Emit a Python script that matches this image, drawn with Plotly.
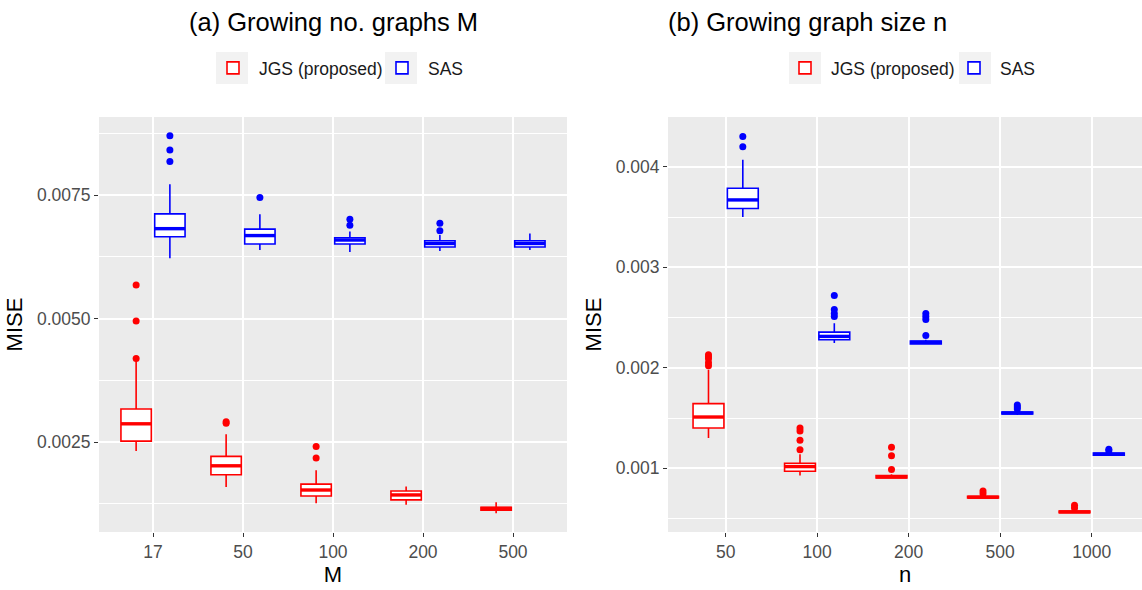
import plotly.graph_objects as go

# ---------------- data ----------------
M_labels = ["17", "50", "100", "200", "500"]
n_labels = ["50", "100", "200", "500", "1000"]

# Panel (a): growing number of graphs M
jgs_M_low = [0.00232, 0.00159, 0.00126, 0.00123, 0.00106]
jgs_M_q1 = [0.00252, 0.00184, 0.00141, 0.00133, 0.00112]
jgs_M_med = [0.00287, 0.00202, 0.00153, 0.00143, 0.001155]
jgs_M_q3 = [0.00317, 0.00221, 0.00165, 0.00151, 0.00118]
jgs_M_up = [0.00415, 0.00266, 0.00193, 0.00160, 0.00128]
jgs_M_out = [[0.00419, 0.00495, 0.00568], [0.00288, 0.00291], [0.00218, 0.00241], [], []]

sas_M_low = [0.00622, 0.00639, 0.00635, 0.00637, 0.00639]
sas_M_q1 = [0.006655, 0.00651, 0.00651, 0.00645, 0.00645]
sas_M_med = [0.00682, 0.00668, 0.00659, 0.00652, 0.00652]
sas_M_q3 = [0.00712, 0.00681, 0.006635, 0.006575, 0.006575]
sas_M_up = [0.00772, 0.00711, 0.00676, 0.00669, 0.00672]
sas_M_out = [[0.00818, 0.00841, 0.00870], [0.00745], [0.00689, 0.00701], [0.00678, 0.00693], []]

# Panel (b): growing graph size n
jgs_n_low = [0.00130, 0.000927, 0.000900, 0.000700, 0.000555]
jgs_n_q1 = [0.00140, 0.000970, 0.000904, 0.000704, 0.000558]
jgs_n_med = [0.00151, 0.001017, 0.000914, 0.000712, 0.000566]
jgs_n_q3 = [0.001643, 0.00105, 0.000927, 0.000720, 0.000575]
jgs_n_up = [0.00198, 0.00114, 0.00094, 0.00073, 0.00059]
jgs_n_out = [[0.00202, 0.00205, 0.00209, 0.00211, 0.00213],
             [0.001185, 0.00128, 0.00137, 0.00140],
             [0.000987, 0.001125, 0.00121],
             [0.000746, 0.000773],
             [0.000604, 0.000631]]

sas_n_low = [0.00350, 0.002246, 0.00223, 0.00153, 0.001125]
sas_n_q1 = [0.003585, 0.002279, 0.002236, 0.001541, 0.001129]
sas_n_med = [0.00367, 0.002312, 0.002253, 0.00155, 0.00114]
sas_n_q3 = [0.003786, 0.002355, 0.002266, 0.00156, 0.001152]
sas_n_up = [0.00407, 0.002444, 0.00228, 0.00157, 0.00116]
sas_n_out = [[0.00420, 0.00430],
             [0.00251, 0.00254, 0.00258, 0.00272],
             [0.00232, 0.00248, 0.00251, 0.00254],
             [0.00159, 0.00161, 0.00163],
             [0.001175, 0.00119]]

# ---------------- style ----------------
RED = "#FF0000"
BLUE = "#0000FF"
OFF = 0.1875
W = 0.3375
FONT = "Liberation Sans, Arial, sans-serif"

fig = go.Figure()


def add_group(name, color, cats, low, q1, med, q3, up, outl, xa, ya, legend, side):
    pos = [i + 1 + side * OFF for i in range(len(cats))]
    fig.add_trace(go.Box(
        x=pos, q1=q1, median=med, q3=q3, lowerfence=low, upperfence=up,
        name=name, line=dict(color=color, width=1.6), fillcolor="white",
        width=W, whiskerwidth=0, boxpoints=False,
        xaxis=xa, yaxis=ya, legend=legend, hoverinfo="y"))
    mx, my = [], []
    for p, m in zip(pos, med):
        mx += [p - W / 2, p + W / 2, None]
        my += [m, m, None]
    fig.add_trace(go.Scatter(
        x=mx, y=my, mode="lines", line=dict(color=color, width=3.4),
        showlegend=False, xaxis=xa, yaxis=ya, hoverinfo="skip"))
    ox, oy = [], []
    for p, vals in zip(pos, outl):
        ox += [p] * len(vals)
        oy += vals
    fig.add_trace(go.Scatter(
        x=ox, y=oy, mode="markers", marker=dict(color=color, size=7),
        showlegend=False, xaxis=xa, yaxis=ya, hoverinfo="y"))


add_group("JGS (proposed)", RED, M_labels, jgs_M_low, jgs_M_q1, jgs_M_med, jgs_M_q3,
          jgs_M_up, jgs_M_out, "x", "y", "legend", -1)
add_group("SAS", BLUE, M_labels, sas_M_low, sas_M_q1, sas_M_med, sas_M_q3,
          sas_M_up, sas_M_out, "x", "y", "legend", 1)
add_group("JGS (proposed)", RED, n_labels, jgs_n_low, jgs_n_q1, jgs_n_med, jgs_n_q3,
          jgs_n_up, jgs_n_out, "x2", "y2", "legend2", -1)
add_group("SAS", BLUE, n_labels, sas_n_low, sas_n_q1, sas_n_med, sas_n_q3,
          sas_n_up, sas_n_out, "x2", "y2", "legend2", 1)

H, Wd = 590, 1142
ydom = [1 - 532 / H, 1 - 117 / H]

common_x = dict(
    showgrid=True, gridcolor="white", gridwidth=1.5, zeroline=False,
    ticks="outside", ticklen=4, tickcolor="#333333", tickwidth=1,
    tickfont=dict(size=17.5, color="#4D4D4D", family=FONT),
    tickvals=[1, 2, 3, 4, 5], showline=False, automargin=False,
)
common_y = dict(
    showgrid=True, gridcolor="white", gridwidth=1.5, zeroline=False,
    ticks="outside", ticklen=4, tickcolor="#333333", tickwidth=1,
    tickfont=dict(size=17.5, color="#4D4D4D", family=FONT), showline=False,
    domain=ydom, automargin=False,
)

leg_common = dict(orientation="h", xanchor="left", y=1 - 68 / H, yanchor="middle",
                  font=dict(size=17.5, color="#1A1A1A"), bgcolor="rgba(0,0,0,0)",
                  itemwidth=42, entrywidth=112, traceorder="normal")

# grey legend-key backgrounds (ggplot style), in pixel positions of the page
key_left_px = [216, 385, 789, 959]
key_shapes = [
    dict(type="rect", xref="paper", yref="paper", layer="below",
         x0=k / Wd, x1=(k + 32) / Wd, y0=1 - 84 / H, y1=1 - 52 / H,
         fillcolor="#F2F2F2", line=dict(width=0))
    for k in key_left_px
]

fig.update_layout(
    width=Wd, height=H,
    margin=dict(l=0, r=0, t=0, b=0, autoexpand=False),
    paper_bgcolor="white", plot_bgcolor="#EBEBEB",
    boxmode="overlay",
    font=dict(family=FONT, color="black"),
    xaxis=dict(common_x, domain=[99 / Wd, 567 / Wd], range=[0.4, 5.6], ticktext=M_labels,
               anchor="y",
               title=dict(text="M", font=dict(size=22, color="black"), standoff=2)),
    xaxis2=dict(common_x, domain=[668 / Wd, 1.0], range=[0.37, 5.55], ticktext=n_labels,
                anchor="y2",
                title=dict(text="n", font=dict(size=22, color="black"), standoff=2)),
    yaxis=dict(common_y, range=[0.00068, 0.00908], tickmode="linear", tick0=0, dtick=0.0025,
               tickformat=".4f", anchor="x",
               minor=dict(tickmode="linear", tick0=0, dtick=0.00125, showgrid=True,
                          gridcolor="white", gridwidth=0.8, ticks=""),
               title=dict(text="MISE", font=dict(size=22, color="black"), standoff=8)),
    yaxis2=dict(common_y, range=[0.000366, 0.004495], tickmode="linear", tick0=0, dtick=0.001,
                tickformat=".3f", anchor="x2",
                minor=dict(tickmode="linear", tick0=0, dtick=0.0005, showgrid=True,
                           gridcolor="white", gridwidth=0.8, ticks=""),
                title=dict(text="MISE", font=dict(size=22, color="black"), standoff=8)),
    legend=dict(leg_common, x=207 / Wd),
    legend2=dict(leg_common, x=779 / Wd),
    showlegend=True,
    shapes=key_shapes,
    annotations=[
        dict(text="(a) Growing no. graphs M", x=333 / Wd, y=1 - 22 / H, xref="paper", yref="paper",
             xanchor="center", yanchor="middle", showarrow=False,
             font=dict(size=25.5, color="black", family=FONT)),
        dict(text="(b) Growing graph size n", x=666 / Wd, y=1 - 22 / H, xref="paper", yref="paper",
             xanchor="left", yanchor="middle", showarrow=False,
             font=dict(size=25.5, color="black", family=FONT)),
    ],
)

fig.write_html("out.html",
               config={"displayModeBar": False},
               post_script="document.body.style.margin='0';document.body.style.padding='0';"
                           "document.body.style.overflow='hidden';")
